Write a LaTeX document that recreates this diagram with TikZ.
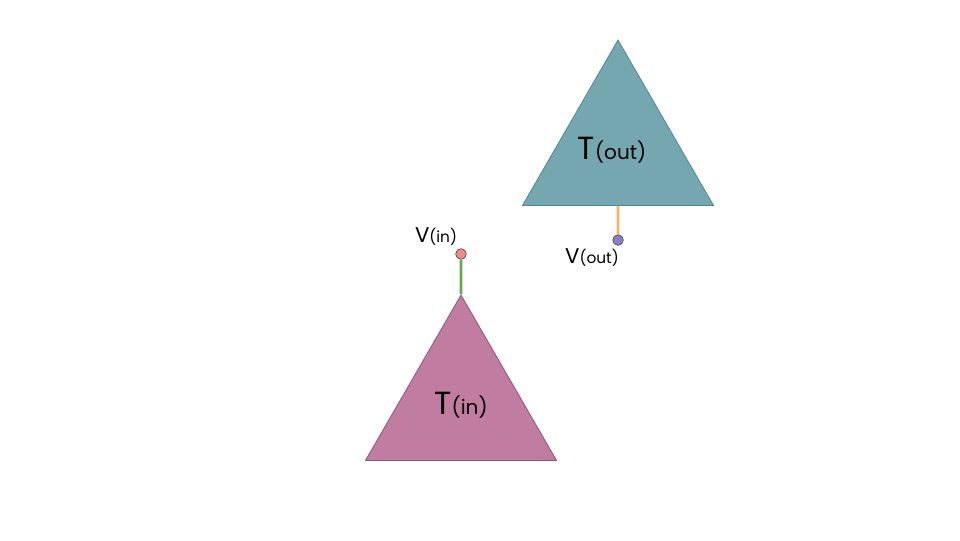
\documentclass[tikz,border=0pt]{standalone}
\usepackage{fontspec}
\setmainfont{Poppins}
\usetikzlibrary{shapes.geometric}
\definecolor{tealfill}{HTML}{75A7B0}
\definecolor{tealdraw}{HTML}{4F8891}
\definecolor{pinkfill}{HTML}{C17CA2}
\definecolor{pinkdraw}{HTML}{8E5576}
\definecolor{orangeline}{HTML}{F4B266}
\definecolor{greenline}{HTML}{6AA84F}
\definecolor{reddot}{HTML}{F08A85}
\definecolor{purpledot}{HTML}{8E7CC8}
\tikzset{
  tri/.style={regular polygon, regular polygon sides=3, inner sep=0pt,
    minimum size=165.4pt, line width=0.6pt, font=\fontsize{24}{28}\selectfont},
  dot/.style={circle, inner sep=0pt, minimum size=8pt, draw=black!70, line width=0.5pt},
  vlabel/.style={font=\fontsize{16}{19}\selectfont, inner sep=0pt},
  link/.style={line width=2pt}
}
\newcommand{\smallpart}[1]{{\fontsize{15}{18}\selectfont #1}}
\newcommand{\tinypart}[1]{{\fontsize{11.5}{14}\selectfont #1}}
\begin{document}
\begin{tikzpicture}[x=0.75pt, y=-0.75pt]
\useasboundingbox (0,0) rectangle (960,540);
\node[tri, fill=tealfill, draw=tealdraw] (tout) at (618,150.3) {\hspace*{-9pt}T\smallpart{(out)}};
\node[tri, fill=pinkfill, draw=pinkdraw] (tin) at (461,405.3) {T\smallpart{(in)}};
\node[dot, fill=purpledot] (vout) at (618,240) {};
\node[dot, fill=reddot] (vin) at (461,254) {};
\draw[link, orangeline] (tout.south) -- (vout);
\draw[link, greenline] (tin.north) -- (vin);
\node[vlabel] (lvin) at (436,236) {V\tinypart{(in)}};
\node[vlabel] (lvout) at (592,257) {V\tinypart{(out)}};
\end{tikzpicture}
\end{document}
